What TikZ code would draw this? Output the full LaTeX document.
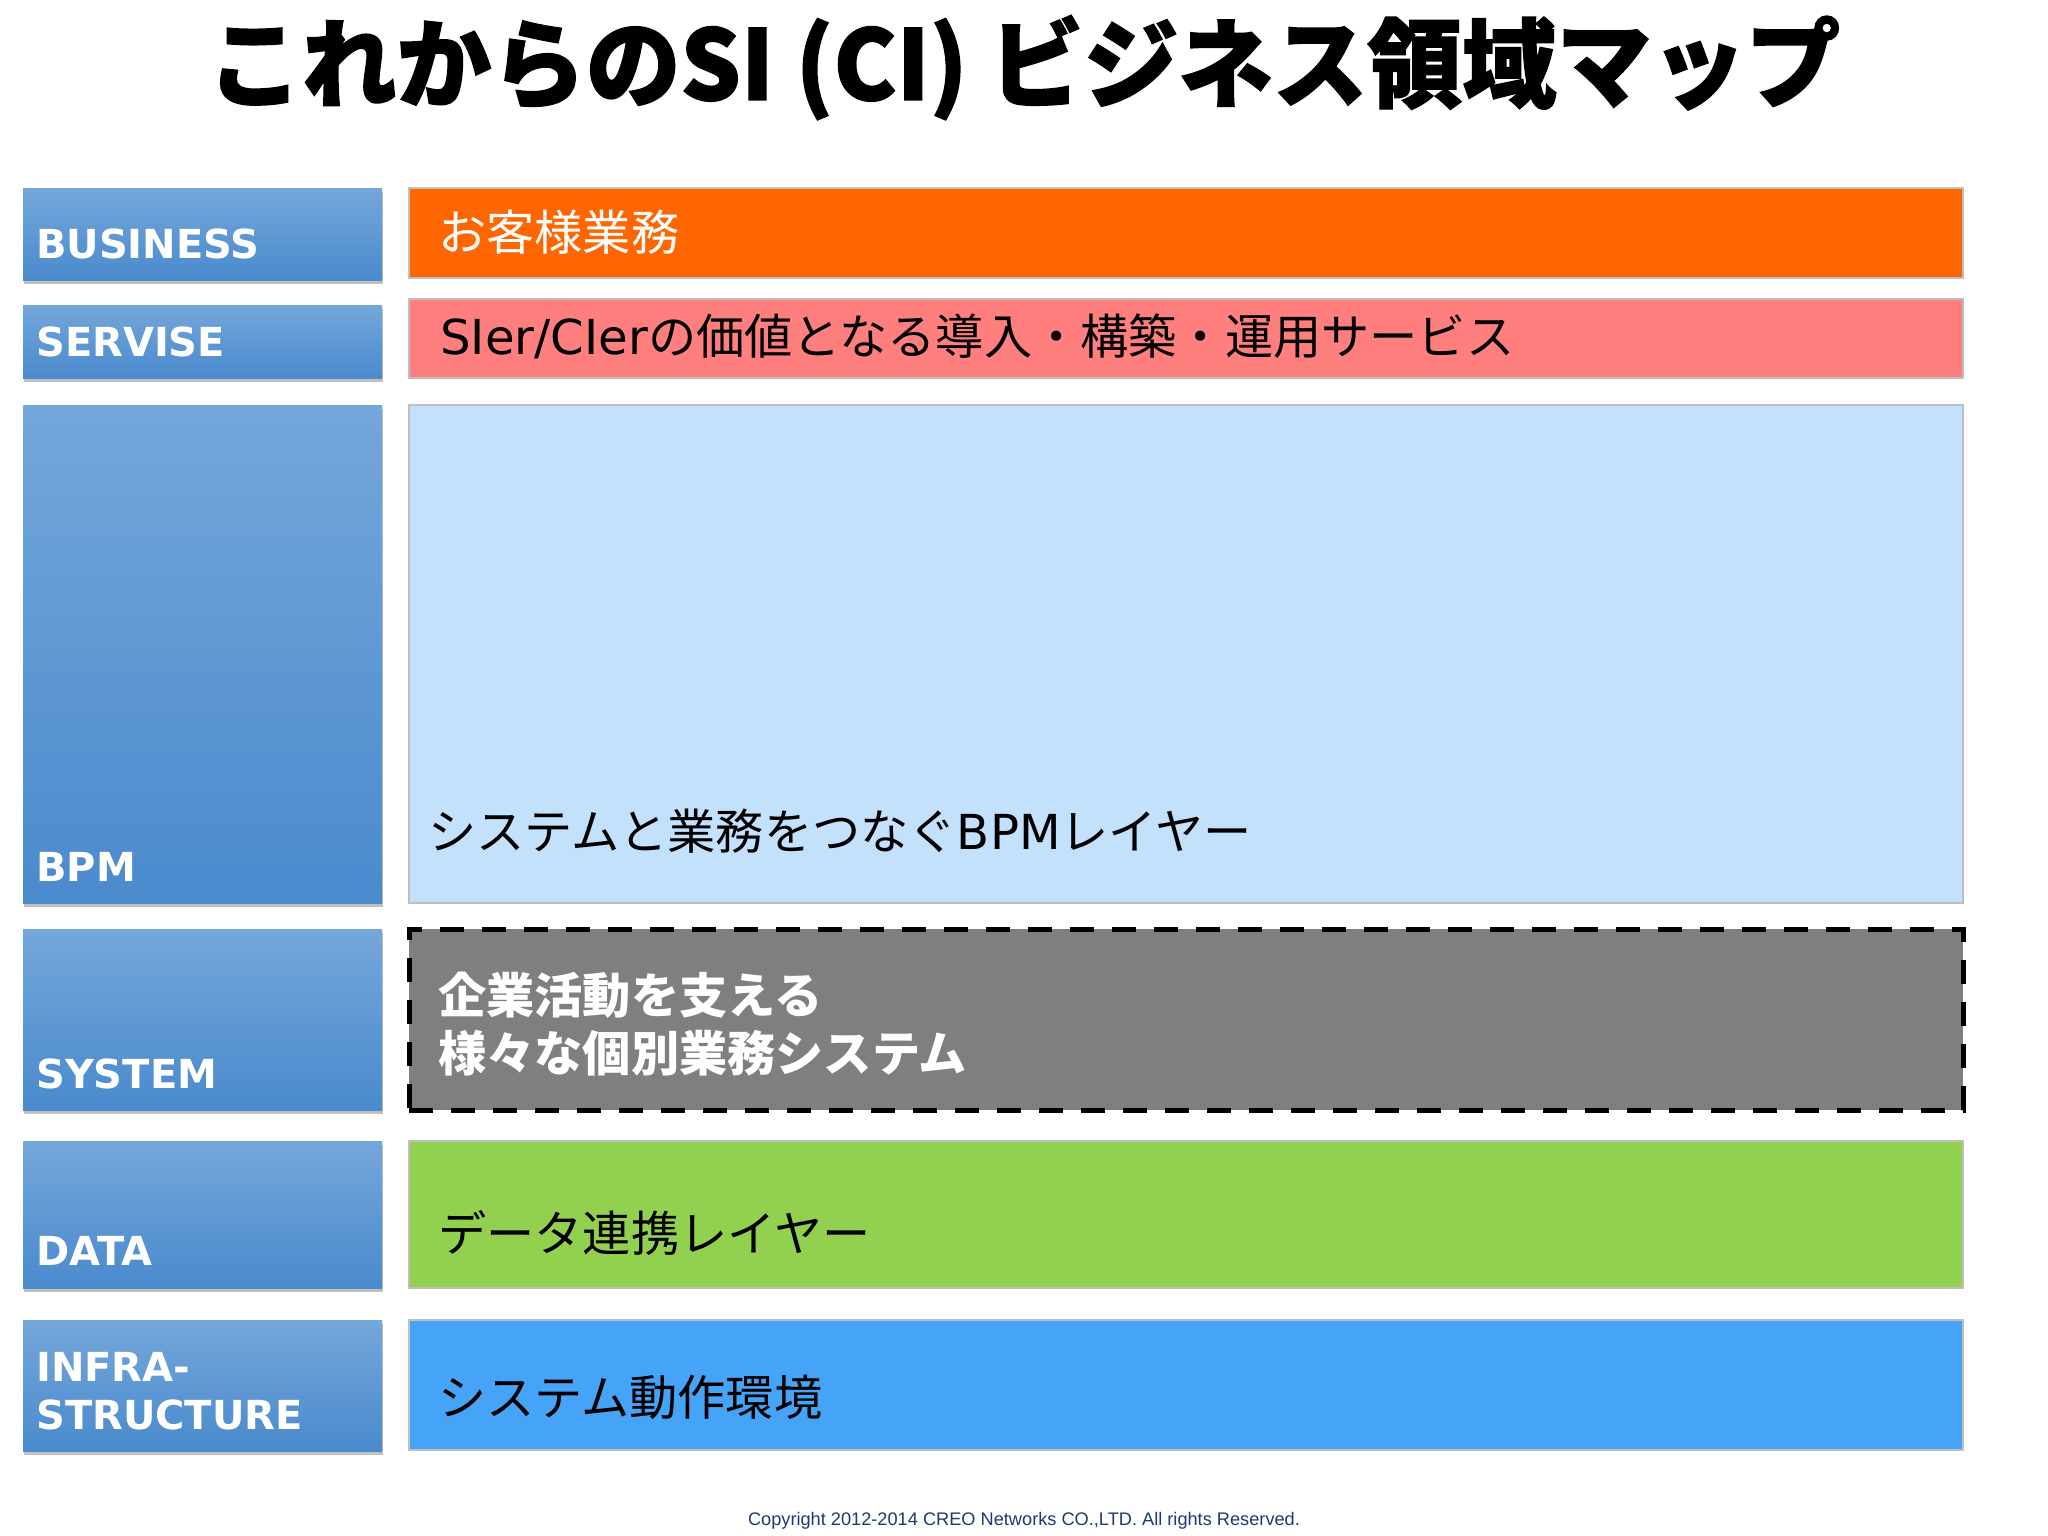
\documentclass[tikz,border=0pt]{standalone}
\usepackage{fontspec}
\usetikzlibrary{shadows}
\setmainfont{Noto Sans CJK JP}
\newfontfamily\jpf{Noto Sans CJK JP}
\newfontfamily\titlef[BoldFeatures={FakeBold=1.5}]{Noto Sans CJK JP}
\newfontfamily\labf{DejaVu Sans}
\newfontfamily\latf{DejaVu Sans}
\newfontfamily\copyf{Liberation Sans}
\definecolor{ltop}{HTML}{74A7DA}
\definecolor{lbot}{HTML}{4A8ACD}
\definecolor{rborder}{HTML}{BFBFBF}
\definecolor{corange}{HTML}{FF6600}
\definecolor{cpink}{HTML}{FF7F7F}
\definecolor{clight}{HTML}{C4E1FB}
\definecolor{cgray}{HTML}{7F7F7F}
\definecolor{cgreen}{HTML}{92D050}
\definecolor{cblue}{HTML}{45A3F8}
\definecolor{cnavy}{HTML}{1F3A6E}
\begin{document}
\begin{tikzpicture}[x=1pt,y=-1pt,
  lbox/.style={anchor=north west, inner sep=0pt, outer sep=0pt, minimum width=359pt,
    top color=ltop, bottom color=lbot, draw=none,
    drop shadow={shadow xshift=1pt, shadow yshift=-3.5pt, opacity=0.35, fill=black!70}},
  rbox/.style={anchor=north west, inner sep=0pt, outer sep=0pt, minimum width=1554pt,
    draw=rborder, line width=1.5pt},
  ltext/.style={anchor=base west, inner sep=0pt, text=white,
    font=\labf\bfseries\fontsize{40pt}{48pt}\selectfont},
  rtext/.style={anchor=base west, inner sep=0pt,
    font=\jpf\fontsize{48.2pt}{58pt}\selectfont}]
\useasboundingbox (0,0) rectangle (2048,1536);
\fill[white] (0,0) rectangle (2048,1536);

% title
\node[anchor=base, inner sep=0pt, font=\titlef\bfseries\fontsize{97pt}{110pt}\selectfont] (title) at (1024,100) {\scalebox{0.975}[1]{これからのSI (CI) ビジネス領域マップ}};

% left boxes
\node[lbox, minimum height=92pt] (lbus) at (23,188) {};
\node[lbox, minimum height=73pt] (lser) at (23,305) {};
\node[lbox, minimum height=498pt] (lbpm) at (23,405) {};
\node[lbox, minimum height=181pt] (lsys) at (23,929) {};
\node[lbox, minimum height=147pt] (ldat) at (23,1141) {};
\node[lbox, minimum height=131pt] (linf) at (23,1320) {};

\node[ltext] (tbus) at (36,258) {BUSINESS};
\node[ltext] (tser) at (36,356) {SERVISE};
\node[ltext] (tbpm) at (36,881) {BPM};
\node[ltext] (tsys) at (36,1088) {SYSTEM};
\node[ltext] (tdat) at (36,1265) {DATA};
\node[ltext] (tinf1) at (36,1381) {INFRA-};
\node[ltext] (tinf2) at (36,1429) {STRUCTURE};

% right boxes
\node[rbox, fill=corange, minimum height=90pt] (rbus) at (409,188) {};
\node[rbox, fill=cpink, minimum height=79pt] (rser) at (409,299) {};
\node[rbox, fill=clight, minimum height=498pt] (rbpm) at (409,405) {};
\node[anchor=north west, inner sep=0pt, outer sep=0pt, minimum width=1554pt, minimum height=181pt,
  fill=cgray, draw=black, line width=5pt, dash pattern=on 24pt off 18pt] (rsys) at (409,929) {};
\node[rbox, fill=cgreen, minimum height=147pt] (rdat) at (409,1141) {};
\node[rbox, fill=cblue, minimum height=130pt] (rinf) at (409,1320) {};

\node[rtext, text=white] (xbus) at (438,250) {お客様業務};
\node[rtext] (xser) at (440,354) {{\latf SIer/CIer}の価値となる導入・構築・運用サービス};
\node[rtext] (xbpm) at (428,849) {システムと業務をつなぐ{\latf BPM}レイヤー};
\node[rtext, text=white, font=\jpf\bfseries\fontsize{48.2pt}{58pt}\selectfont] (xsys1) at (438,1013) {企業活動を支える};
\node[rtext, text=white, font=\jpf\bfseries\fontsize{48.2pt}{58pt}\selectfont] (xsys2) at (438,1071) {様々な個別業務システム};
\node[rtext] (xdat) at (438,1251) {データ連携レイヤー};
\node[rtext] (xinf) at (438,1415) {システム動作環境};

% copyright
\node[anchor=base, inner sep=0pt, text=cnavy, font=\copyf\fontsize{18.2pt}{22pt}\selectfont] (copy) at (1024,1525) {Copyright 2012-2014 CREO Networks CO.,LTD. All rights Reserved.};
\end{tikzpicture}
\end{document}
